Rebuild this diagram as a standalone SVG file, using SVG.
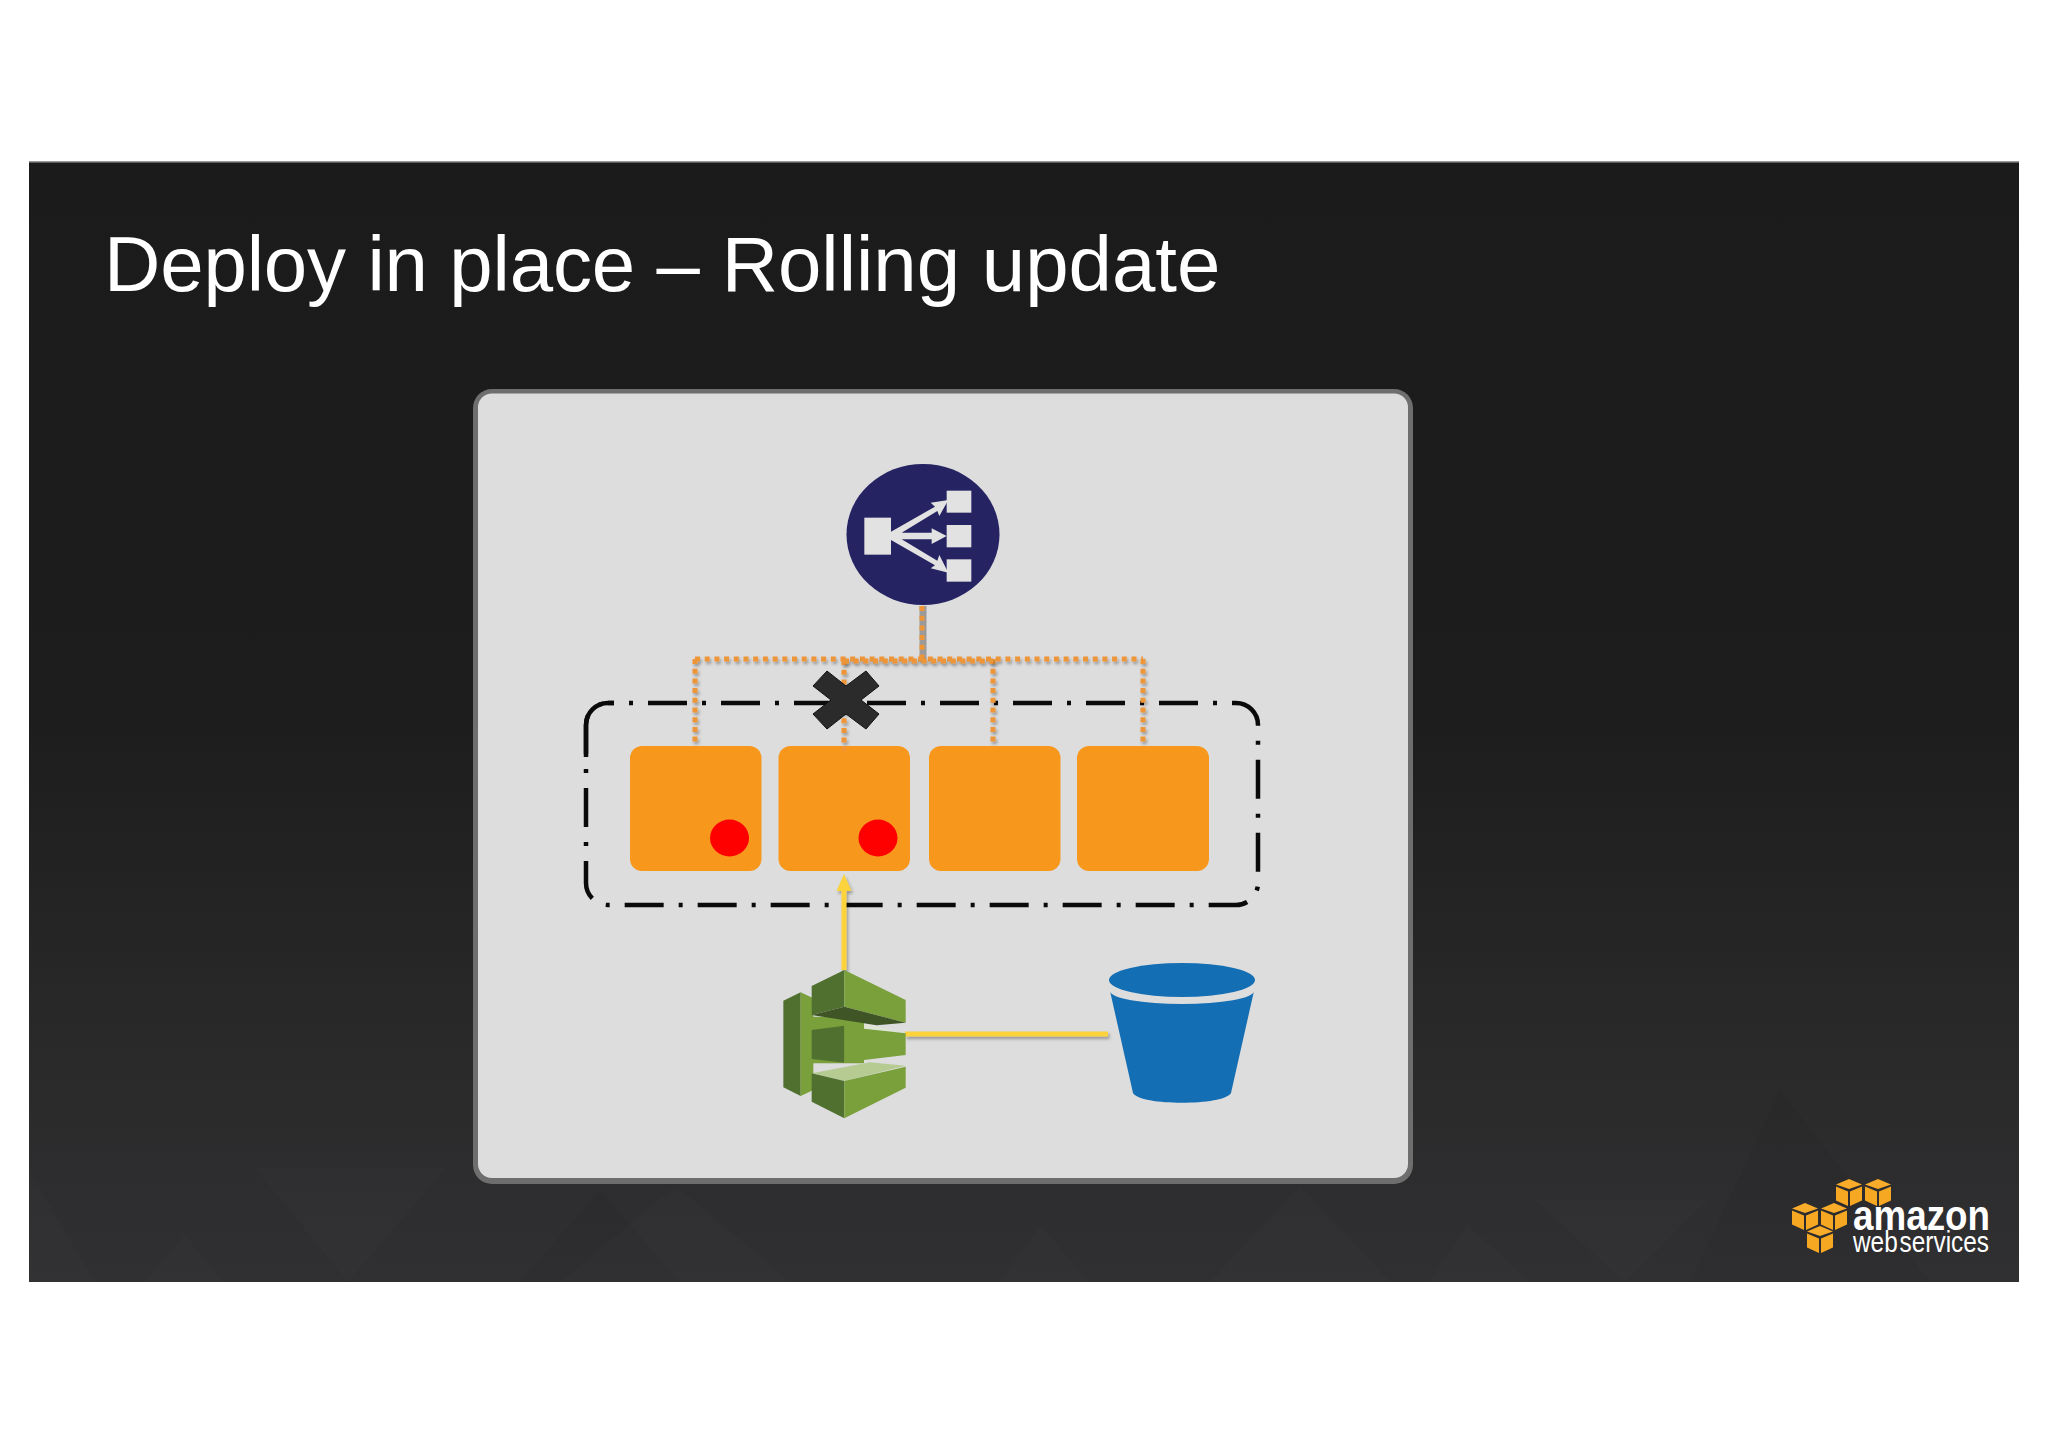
<svg xmlns="http://www.w3.org/2000/svg" width="2048" height="1447" viewBox="0 0 2048 1447">
<defs>
<linearGradient id="bg" x1="0" y1="0" x2="0" y2="1"><stop offset="0" stop-color="#1b1b1b"/><stop offset="0.5" stop-color="#1d1d1d"/><stop offset="0.78" stop-color="#29292a"/><stop offset="1" stop-color="#302f31"/></linearGradient>
<filter id="sh" filterUnits="userSpaceOnUse" x="0" y="0" width="2048" height="1447"><feDropShadow dx="1.500" dy="2.500" stdDeviation="1.800" flood-color="#000" flood-opacity="0.32"/></filter>
<g id="cube"><path d="M0 5.500L13 0L26 5.500L13 10Z" fill="#f8ac2a"/><path d="M0 7.500L12 12.500V27L0 21.500Z" fill="#f7a823"/><path d="M26 7.500L14 12.500V27L26 21.500Z" fill="#f7a823"/></g>
</defs>
<style>
.inst{fill:#f7981d}
.dot{fill:#ff0000}
.o{fill:none;stroke:#ee9537;stroke-width:5;stroke-dasharray:5 4.700}
.y{fill:none;stroke:#fcd23c;stroke-width:5}
.yh{fill:#fcd23c}
.wh{fill:#e2e2e2}
.tl{fill:#fff;opacity:.012}
.td{fill:#000;opacity:.03}
text{font-family:"Liberation Sans",Arial,sans-serif}
</style>
<rect width="2048" height="1447" fill="#fff"/>
<rect x="29" y="162" width="1990" height="1120" fill="url(#bg)"/>
<path d="M29 162H2019" stroke="#777" stroke-width="1.500"/>
<g id="texture">
<path class="tl" d="M29 1170L95 1282H29Z"/>
<path class="tl" d="M255 1168H446L348 1282Z"/>
<path class="tl" d="M145 1282L185 1235L222 1282Z"/>
<path class="tl" d="M676 1185L790 1282H560Z"/>
<path class="tl" d="M1000 1282L1040 1225L1090 1282Z"/>
<path class="tl" d="M1428 1282L1468 1225L1530 1282Z"/>
<path class="tl" d="M1535 1200H1708L1625 1282Z"/>
<path class="tl" d="M1300 1185L1390 1282H1210Z"/>
<path class="td" d="M520 1282L600 1190L680 1282Z"/>
<path class="td" d="M1780 1090L1930 1282H1690Z"/>
</g>
<g id="panel"><rect x="473" y="389" width="940" height="795" rx="19" fill="#6e6e6e"/><rect x="478" y="393.500" width="930" height="784.500" rx="14" fill="#dddddE"/></g>
<text id="title" x="104" y="291" font-size="78" fill="#fff"><tspan letter-spacing="-.15">Deploy in place </tspan><tspan>– Rolling update</tspan></text>
<g id="asg"><rect x="586" y="703" width="672" height="202" rx="22" fill="none" stroke="#0a0a0a" stroke-width="4.500" stroke-dasharray="39 15 4 15" stroke-dashoffset="33"/><path d="M586 757V725A22 22 0 0 1 608 703H614" fill="none" stroke="#0a0a0a" stroke-width="4.500"/></g>
<g id="connectors">
<path d="M923 606V662" fill="none" stroke="#9a9a9a" stroke-width="7"/>
<path class="o" d="M922 606V660"/>
<path class="o" d="M695 659H1143M695 659V746M844 660V751M993 659V746M1143 659V746" filter="url(#sh)"/>
<path class="o" d="M844 661H993" filter="url(#sh)"/>
<g filter="url(#sh)"><path class="y" d="M844 970V888"/><path class="yh" d="M844 874L836.500 891H851.500Z"/></g>
<path class="y" d="M905 1034H1108" filter="url(#sh)"/>
</g>
<g id="instance-1"><rect class="inst" x="630" y="746" width="131.500" height="125" rx="12"/><ellipse class="dot" cx="729.500" cy="838" rx="19.500" ry="18.500"/></g>
<g id="instance-2"><rect class="inst" x="778.500" y="746" width="131.500" height="125" rx="12"/><ellipse class="dot" cx="878" cy="838" rx="19.500" ry="18.500"/></g>
<g id="instance-3"><rect class="inst" x="929" y="746" width="131.500" height="125" rx="12"/></g>
<g id="instance-4"><rect class="inst" x="1077" y="746" width="132" height="125" rx="12"/></g>
<path class="o" d="M844 746V751" style="opacity:.8"/>
<g id="load-balancer"><ellipse cx="923" cy="534.500" rx="76.500" ry="70.500" fill="#252362"/>
<g transform="translate(780 440) scale(.33333)"><rect class="wh" x="253" y="233" width="80" height="111"/><rect class="wh" x="500" y="152" width="74" height="66"/><rect class="wh" x="500" y="255" width="74" height="67"/><rect class="wh" x="500" y="358" width="74" height="67"/>
<path class="wh" d="M333 275L465 200L452 188L505 180L478 228L472 213L365 278H455V265L500 288L455 312V298H365L472 362L478 345L505 398L452 385L465 376L333 300Z"/></g></g>
<path id="x-mark" d="M813 686L827 671L846 686L866 671L879 686L861 700L879 714L866 729L846 714L827 729L813 714L831 700Z" fill="#2b2b2b" stroke="#111" stroke-width="1"/>
<g id="codedeploy" transform="translate(760 860) scale(.33333)">
<path d="M70 422L122 397V708L70 682Z" fill="#507030"/>
<path d="M122 397L160 415V690L122 708Z" fill="#7aa03c"/>
<path d="M155 470H312V610H155Z" fill="#7aa03c"/>
<path d="M155 378L253 330V440L155 465Z" fill="#507030"/>
<path d="M253 330L437 420V488L253 440Z" fill="#7aa03c"/>
<path d="M155 465L253 440L437 488L350 496Z" fill="#3f5526"/>
<path d="M312 492L437 518L312 506Z" fill="#dfe5d2"/>
<path d="M155 510L253 497V608L155 597Z" fill="#507030"/>
<path d="M253 497L312 506L437 520V585L312 600L253 608Z" fill="#7aa03c"/>
<path d="M155 640L330 607L437 617L253 663Z" fill="#b5cb92"/>
<path d="M155 640L253 663V775L155 725Z" fill="#507030"/>
<path d="M253 663L437 620V683L253 775Z" fill="#7aa03c"/>
</g>
<g id="s3-bucket" fill="#146eb4"><ellipse cx="1182" cy="980" rx="73" ry="17"/>
<path d="M1110 991A72 13 0 0 0 1254 991L1231 1093C1224 1106 1140 1106 1133 1093Z"/></g>
<g id="aws-logo">
<use href="#cube" x="1836" y="1179"/><use href="#cube" x="1865" y="1179"/><use href="#cube" x="1792" y="1203"/><use href="#cube" x="1821" y="1203"/><use href="#cube" x="1807" y="1226"/>
<text x="1853" y="1230" font-size="42" font-weight="700" fill="#fff" textLength="137" lengthAdjust="spacingAndGlyphs">amazon</text>
<text x="1853" y="1252" font-size="30" word-spacing="-6" fill="#fff" textLength="136" lengthAdjust="spacingAndGlyphs">web services</text>
</g>
</svg>
